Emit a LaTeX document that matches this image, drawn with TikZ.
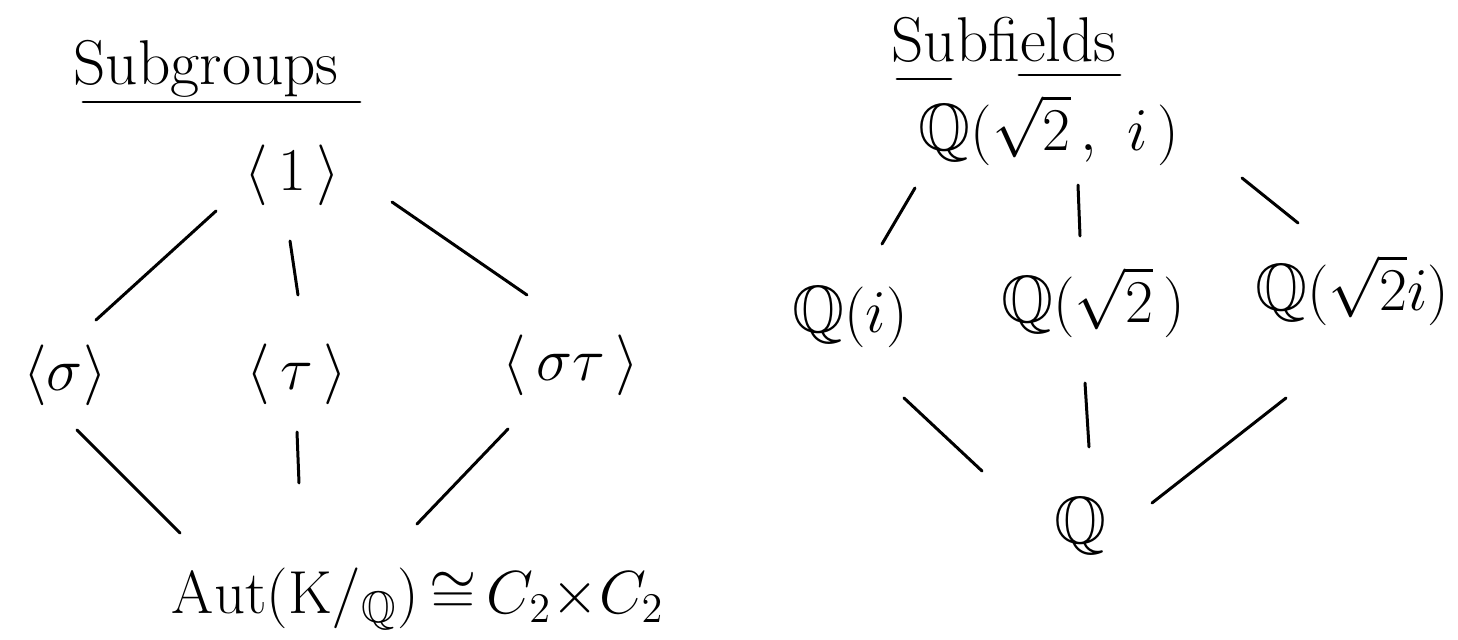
\documentclass[tikz,border=0pt]{standalone}
\usepackage{amssymb}
\begin{document}
\begin{tikzpicture}[x=0.01cm,y=-0.01cm,
  lbl/.style={inner sep=0pt, font=\fontsize{19}{23}\selectfont},
  ttl/.style={inner sep=0pt, anchor=base, font=\fontsize{18}{22}\selectfont},
  edge/.style={line width=0.85pt, line cap=round},
  uline/.style={line width=0.8pt, line cap=round}]
\fill[white] (0,0) rectangle (1458,640);
\useasboundingbox (0,0) rectangle (1458,640);
% ---------- left: subgroups ----------
\node[ttl] (tsub) at (206,85) {Subgroups};
\draw[uline] ([shift={(-123,17)}]tsub.base) -- ([shift={(154,17)}]tsub.base);
\node[lbl] (one)   at (292,175) {$\langle\, 1\,\rangle$};
\node[lbl] (sigma) at (65,375)  {$\langle\sigma\rangle$};
\node[lbl] (tau)   at (297,374) {$\langle\,\tau\,\rangle$};
\node[lbl] (st)    at (571,365) {$\langle\,\sigma\tau\,\rangle$};
\node[lbl, anchor=base, font=\fontsize{18}{22}\selectfont] (aut) at (418,613)
  {$\mathrm{Aut}(\mathrm{K}/_{\mathbb{Q}})\,{\cong}\,C_2{\times}C_2$};
\draw[edge] ([shift={(-76,36)}]one.center) -- ([shift={(31,-55)}]sigma.center);
\draw[edge] ([shift={(-2,66)}]one.center) -- ([shift={(1,-79)}]tau.center);
\draw[edge] ([shift={(100,27)}]one.center) -- ([shift={(-44,-70)}]st.center);
\draw[edge] ([shift={(12,55)}]sigma.center) -- ([shift={(-238,-80)}]aut.base);
\draw[edge] ([shift={(0,58)}]tau.center) -- ([shift={(-119,-130)}]aut.base);
\draw[edge] ([shift={(-63,64)}]st.center) -- ([shift={(-1,-89)}]aut.base);
% ---------- right: subfields ----------
\node[ttl] (tfld) at (1004,62) {Subfields};
\draw[uline] ([shift={(-107,17)}]tfld.base) -- ([shift={(-53,17)}]tfld.base);
\draw[uline] ([shift={(15,13)}]tfld.base) -- ([shift={(116,13)}]tfld.base);
\node[lbl] (top) at (1049,130) {$\mathbb{Q}(\sqrt{2}\,,\ i\,)$};
\node[lbl] (qi)  at (850,317)  {$\mathbb{Q}(i)$};
\node[lbl] (qs)  at (1093,302) {$\mathbb{Q}(\sqrt{2}\,)$};
\node[lbl] (qsi) at (1352,290) {$\mathbb{Q}(\sqrt{2}i)$};
\node[lbl] (q)   at (1080,526) {$\mathbb{Q}$};
\draw[edge] ([shift={(-134,58)}]top.center) -- ([shift={(32,-73)}]qi.center);
\draw[edge] ([shift={(29,55)}]top.center) -- ([shift={(-13,-66)}]qs.center);
\draw[edge] ([shift={(193,48)}]top.center) -- ([shift={(-54,-67)}]qsi.center);
\draw[edge] ([shift={(54,81)}]qi.center) -- ([shift={(-98,-55)}]q.center);
\draw[edge] ([shift={(-8,81)}]qs.center) -- ([shift={(9,-79)}]q.center);
\draw[edge] ([shift={(-66,108)}]qsi.center) -- ([shift={(72,-23)}]q.center);
\end{tikzpicture}
\end{document}
